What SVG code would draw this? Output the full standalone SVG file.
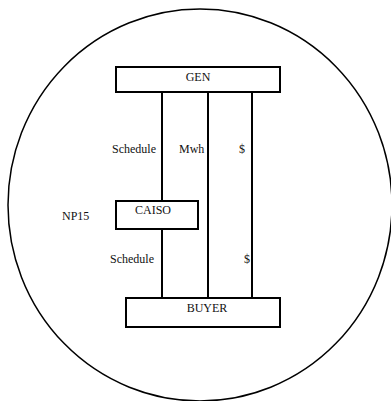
<svg xmlns="http://www.w3.org/2000/svg" width="391" height="401" viewBox="0 0 391 401">
<style>
.box{fill:#fff;stroke:#000;stroke-width:2}
.ln{stroke:#000;stroke-width:2;fill:none}
text{font-family:"Liberation Serif","Times New Roman",serif;font-size:12px;fill:#111}
</style>
<rect width="391" height="401" fill="#fff"/>
<g id="boundary"><ellipse cx="200" cy="205" rx="192" ry="196" fill="none" stroke="#000" stroke-width="1.5"/></g>
<g id="connectors">
<line class="ln" x1="162" y1="90" x2="162" y2="201"/>
<line class="ln" x1="162" y1="229" x2="162" y2="298"/>
<line class="ln" x1="208" y1="92" x2="208" y2="298"/>
<line class="ln" x1="252" y1="92" x2="252" y2="298"/>
<text x="112" y="153">Schedule</text>
<text x="179" y="153">Mwh</text>
<text x="239" y="153">$</text>
<text x="110" y="263">Schedule</text>
<text x="244" y="263">$</text>
</g>
<g id="gen"><rect class="box" x="116" y="67" width="164" height="25"/><text x="198" y="81" text-anchor="middle">GEN</text></g>
<g id="caiso"><rect class="box" x="116" y="201" width="82" height="28"/><text x="153" y="214" text-anchor="middle">CAISO</text></g>
<g id="np15"><text x="62" y="220">NP15</text></g>
<g id="buyer"><rect class="box" x="126" y="298" width="154" height="29"/><text x="207" y="312" text-anchor="middle">BUYER</text></g>
</svg>
